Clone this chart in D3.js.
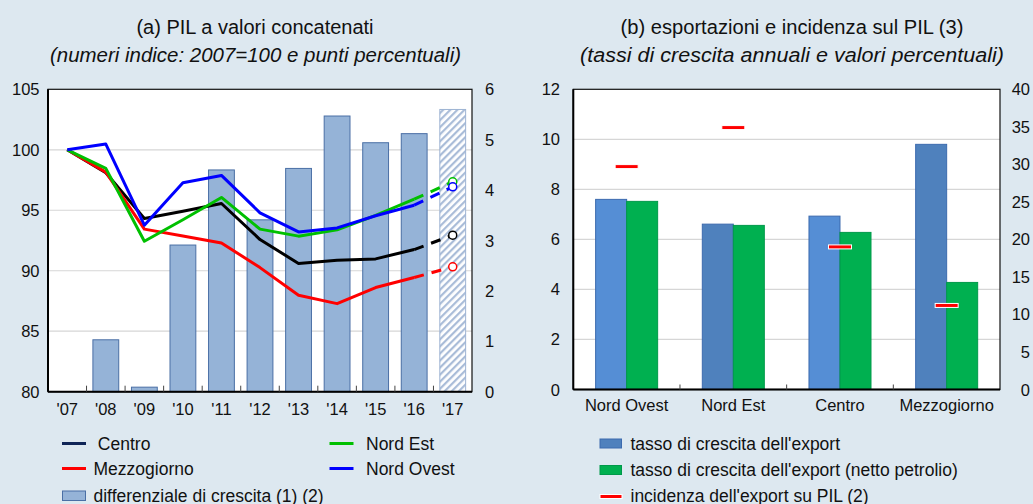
<!DOCTYPE html>
<html><head><meta charset="utf-8">
<script src="https://cdn.jsdelivr.net/npm/d3@7"></script>
<style>
html,body{margin:0;padding:0;background:#DDE8F0;}
svg{display:block;font-family:"Liberation Sans",Arial,Helvetica,sans-serif;}
</style></head>
<body>
<svg id="c" width="1033" height="504"></svg>
<script>
// ---- data: panel (a)
const years = ["'07","'08","'09","'10","'11","'12","'13","'14","'15","'16","'17"];
const centro      = [100, 98.1, 94.32, 94.92, 95.56, 92.58, 90.6, 90.87, 90.98, 91.75, 92.94];
const mezzogiorno = [100, 98.15, 93.44, 92.87, 92.3, 90.26, 87.97, 87.28, 88.61, 89.44, 90.32];
const nordEst     = [100, 98.46, 92.44, 94.22, 96.06, 93.44, 92.86, 93.38, 94.57, 95.92, 97.35];
const nordOvest   = [100, 100.47, 93.77, 97.27, 97.88, 94.79, 93.21, 93.54, 94.55, 95.42, 96.94];
const differenziale = [0, 1.03, 0.09, 2.91, 4.40, 3.41, 4.43, 5.47, 4.94, 5.12, 5.60];
const leftTicksA = [80, 85, 90, 95, 100, 105];
const rightTicksA = [0, 1, 2, 3, 4, 5, 6];
// ---- data: panel (b)
const regions = ["Nord Ovest","Nord Est","Centro","Mezzogiorno"];
const exportGrowth = [7.6, 6.61, 6.93, 9.8];
const exportGrowthNoOil = [7.52, 6.56, 6.28, 4.28];
const exportShare = [29.7, 34.9, 19.0, 11.2];
const leftTicksB = [0, 2, 4, 6, 8, 10, 12];
const rightTicksB = [0, 5, 10, 15, 20, 25, 30, 35, 40];

const svg = d3.select("#c");
const defs = svg.append("defs");
const pat = defs.append("pattern").attr("id","hatch").attr("patternUnits","userSpaceOnUse")
  .attr("width",5).attr("height",5).attr("patternTransform","rotate(45)");
pat.append("rect").attr("width",5).attr("height",5).attr("fill","#fff");
pat.append("rect").attr("width",2.2).attr("height",5).attr("fill","#A9BCD8");

const tickFont = 16.5;

// ===== Panel (a)
const A = {l:48, r:472, t:89.3, b:391.7};
const xA = d3.scaleBand().domain(years).range([A.l, A.r]).paddingInner(0.33).paddingOuter(0.165);
const xAc = d3.scalePoint().domain(years).range([A.l, A.r]).padding(0.5);
const yA = d3.scaleLinear().domain([80,105]).range([A.b, A.t]);
const yA2 = d3.scaleLinear().domain([0,6]).range([A.b, A.t]);
const gA = svg.append("g");
gA.append("rect").attr("x",A.l).attr("y",A.t).attr("width",A.r-A.l).attr("height",A.b-A.t).attr("fill","#fff");
gA.selectAll("line.grid").data(leftTicksA.slice(1,-1)).join("line")
  .attr("x1",A.l).attr("x2",A.r).attr("y1",d=>yA(d)).attr("y2",d=>yA(d)).attr("stroke","#D6D6D6").attr("stroke-width",1.2);
// bars
gA.selectAll("rect.bar").data(years.map((y,i)=>({y, v:differenziale[i], i}))).join("rect")
  .filter(d=>d.v>0)
  .attr("x",d=>xA(d.y)).attr("width",xA.bandwidth())
  .attr("y",d=>yA2(d.v)).attr("height",d=>yA2(0)-yA2(d.v))
  .attr("fill",d=>d.i===years.length-1?"url(#hatch)":"#95B3D7")
  .attr("stroke",d=>d.i===years.length-1?"#9DB3D3":"#4A6FA5").attr("stroke-width",1);
// lines
const seriesA = [
  {name:"Centro", vals:centro, color:"#000"},
  {name:"Mezzogiorno", vals:mezzogiorno, color:"#FF0000"},
  {name:"Nord Est", vals:nordEst, color:"#00C000"},
  {name:"Nord Ovest", vals:nordOvest, color:"#0000FF"}
];
const line = d3.line().x(d=>xAc(d.y)).y(d=>yA(d.v));
const n = years.length;
seriesA.forEach(s=>{
  const pts = years.map((y,i)=>({y, v:s.vals[i]}));
  gA.append("path").datum(pts.slice(0,n-1)).attr("d",line).attr("fill","none")
    .attr("stroke",s.color).attr("stroke-width",3).attr("stroke-linejoin","round");
  gA.append("path").datum(pts.slice(n-2)).attr("d",line).attr("fill","none")
    .attr("stroke",s.color).attr("stroke-width",3).attr("stroke-dasharray","10,8");
  gA.append("circle").attr("cx",xAc(years[n-1])).attr("cy",yA(s.vals[n-1])).attr("r",4)
    .attr("fill","#fff").attr("stroke",s.color).attr("stroke-width",1.5);
});
// frame + axes
gA.append("rect").attr("x",A.l).attr("y",A.t).attr("width",A.r-A.l).attr("height",A.b-A.t)
  .attr("fill","none").attr("stroke","#111").attr("stroke-width",1.2);
gA.append("line").attr("x1",A.l).attr("x2",A.l).attr("y1",A.t).attr("y2",A.b).attr("stroke","#000").attr("stroke-width",2);
gA.append("line").attr("x1",A.l).attr("x2",A.r).attr("y1",A.b).attr("y2",A.b).attr("stroke","#000").attr("stroke-width",2);
gA.selectAll("line.xt").data(years.slice(1)).join("line")
  .attr("x1",d=>xAc(d)-xAc.step()/2).attr("x2",d=>xAc(d)-xAc.step()/2)
  .attr("y1",A.b).attr("y2",A.b-6).attr("stroke","#444").attr("stroke-width",1);
gA.selectAll("text.xl").data(years).join("text")
  .attr("x",d=>xAc(d)).attr("y",A.b+23.5).attr("text-anchor","middle").attr("font-size",tickFont).attr("fill","#111").text(d=>d);
gA.selectAll("text.yl").data(leftTicksA).join("text")
  .attr("x",39.5).attr("y",d=>yA(d)+6).attr("text-anchor","end").attr("font-size",tickFont).attr("fill","#111").text(d=>d);
gA.selectAll("text.yr").data(rightTicksA).join("text")
  .attr("x",485).attr("y",d=>yA2(d)+6).attr("text-anchor","start").attr("font-size",tickFont).attr("fill","#111").text(d=>d);
svg.append("text").attr("x",255).attr("y",34).attr("text-anchor","middle").attr("font-size",20).attr("fill","#111").text("(a) PIL a valori concatenati");
svg.append("text").attr("x",255.5).attr("y",61.5).attr("text-anchor","middle").attr("font-size",20).attr("font-style","italic").attr("fill","#111")
  .attr("textLength",411).attr("lengthAdjust","spacingAndGlyphs").text("(numeri indice: 2007=100 e punti percentuali)");

// legend (a)
const legA = svg.append("g").attr("font-size",17.5).attr("fill","#111");
const legItemsA = [
  {t:" Centro", c:"#0F2557", x:62, y:443.5, tx:93},
  {t:"Nord Est", c:"#00C000", x:329.5, y:443.5, tx:366},
  {t:"Mezzogiorno", c:"#FF0000", x:62, y:468.5, tx:93.5},
  {t:"Nord Ovest", c:"#0000FF", x:329.5, y:468.5, tx:366}
];
legItemsA.forEach(d=>{
  legA.append("line").attr("x1",d.x).attr("x2",d.x+24).attr("y1",d.y).attr("y2",d.y).attr("stroke",d.c).attr("stroke-width",3);
  legA.append("text").attr("x",d.tx).attr("y",d.y+6).attr("xml:space","preserve").style("white-space","pre").text(d.t);
});
legA.append("rect").attr("x",62.5).attr("y",491).attr("width",23).attr("height",9.5).attr("fill","#95B3D7").attr("stroke","#4A6FA5");
legA.append("text").attr("x",93.5).attr("y",501.5).text("differenziale di crescita (1) (2)");

// ===== Panel (b)
const B = {l:573.3, r:1000, t:89.3, b:389.5};
const xB = d3.scaleBand().domain(regions).range([B.l, B.r]);
const inner = d3.scaleBand().domain(["a","b"]).range([0, xB.bandwidth()]).paddingOuter(0.72);
const yB = d3.scaleLinear().domain([0,12]).range([B.b, B.t]);
const yB2 = d3.scaleLinear().domain([0,40]).range([B.b, B.t]);
const gB = svg.append("g");
gB.append("rect").attr("x",B.l).attr("y",B.t).attr("width",B.r-B.l).attr("height",B.b-B.t).attr("fill","#fff");
gB.selectAll("line.grid").data(leftTicksB.slice(1,-1)).join("line")
  .attr("x1",B.l).attr("x2",B.r).attr("y1",d=>yB(d)).attr("y2",d=>yB(d)).attr("stroke","#D6D6D6").attr("stroke-width",1.2);
const blueFill = ["#558ED5","#4F81BD","#558ED5","#4F81BD"];
gB.selectAll("rect.b1").data(regions).join("rect")
  .attr("x",d=>xB(d)+inner("a")).attr("width",inner.bandwidth())
  .attr("y",(d,i)=>yB(exportGrowth[i])).attr("height",(d,i)=>yB(0)-yB(exportGrowth[i]))
  .attr("fill",(d,i)=>blueFill[i]).attr("stroke","#3C6AAE").attr("stroke-width",1);
gB.selectAll("rect.b2").data(regions).join("rect")
  .attr("x",d=>xB(d)+inner("b")).attr("width",inner.bandwidth())
  .attr("y",(d,i)=>yB(exportGrowthNoOil[i])).attr("height",(d,i)=>yB(0)-yB(exportGrowthNoOil[i]))
  .attr("fill","#00B050").attr("stroke","#00994A").attr("stroke-width",1);
gB.selectAll("rect.m").data(regions).join("rect")
  .attr("x",d=>xB(d)+xB.bandwidth()/2-11.5).attr("width",23)
  .attr("y",(d,i)=>yB2(exportShare[i])-2).attr("height",4)
  .attr("fill","#FF0000").attr("stroke","#fff").attr("stroke-width",1);
gB.append("rect").attr("x",B.l).attr("y",B.t).attr("width",B.r-B.l).attr("height",B.b-B.t)
  .attr("fill","none").attr("stroke","#111").attr("stroke-width",1.2);
gB.append("line").attr("x1",B.l).attr("x2",B.l).attr("y1",B.t).attr("y2",B.b).attr("stroke","#000").attr("stroke-width",2);
gB.append("line").attr("x1",B.l).attr("x2",B.r).attr("y1",B.b).attr("y2",B.b).attr("stroke","#000").attr("stroke-width",2);
gB.selectAll("line.xt").data(regions.slice(1)).join("line")
  .attr("x1",d=>xB(d)).attr("x2",d=>xB(d)).attr("y1",B.b).attr("y2",B.b-5).attr("stroke","#444");
gB.selectAll("text.xl").data(regions).join("text")
  .attr("x",d=>xB(d)+xB.bandwidth()/2).attr("y",B.b+21.5).attr("text-anchor","middle").attr("font-size",tickFont).attr("fill","#111").text(d=>d);
gB.selectAll("text.yl").data(leftTicksB).join("text")
  .attr("x",560).attr("y",d=>yB(d)+6).attr("text-anchor","end").attr("font-size",tickFont).attr("fill","#111").text(d=>d);
gB.selectAll("text.yr").data(rightTicksB).join("text")
  .attr("x",1030).attr("y",d=>yB2(d)+6).attr("text-anchor","end").attr("font-size",tickFont).attr("fill","#111").text(d=>d);
svg.append("text").attr("x",792).attr("y",34).attr("text-anchor","middle").attr("font-size",20).attr("fill","#111")
  .attr("textLength",343).attr("lengthAdjust","spacingAndGlyphs").text("(b) esportazioni e incidenza sul PIL (3)");
svg.append("text").attr("x",792).attr("y",61.5).attr("text-anchor","middle").attr("font-size",20).attr("font-style","italic").attr("fill","#111")
  .attr("textLength",424).attr("lengthAdjust","spacingAndGlyphs").text("(tassi di crescita annuali e valori percentuali)");

// legend (b)
const legB = svg.append("g").attr("font-size",17.5).attr("fill","#111");
legB.append("rect").attr("x",600).attr("y",439).attr("width",21.5).attr("height",9).attr("fill","#4F81BD").attr("stroke","#3C6AAE");
legB.append("text").attr("x",630.5).attr("y",449.5).text("tasso di crescita dell'export");
legB.append("rect").attr("x",600).attr("y",465.5).attr("width",21.5).attr("height",9).attr("fill","#00B050").attr("stroke","#00994A");
legB.append("text").attr("x",630.5).attr("y",475.5).text("tasso di crescita dell'export (netto petrolio)");
legB.append("rect").attr("x",600).attr("y",494.5).attr("width",22).attr("height",4).attr("fill","#FF0000").attr("stroke","#fff");
legB.append("text").attr("x",630.5).attr("y",501.5).text("incidenza dell'export su PIL (2)");
</script>
</body></html>
